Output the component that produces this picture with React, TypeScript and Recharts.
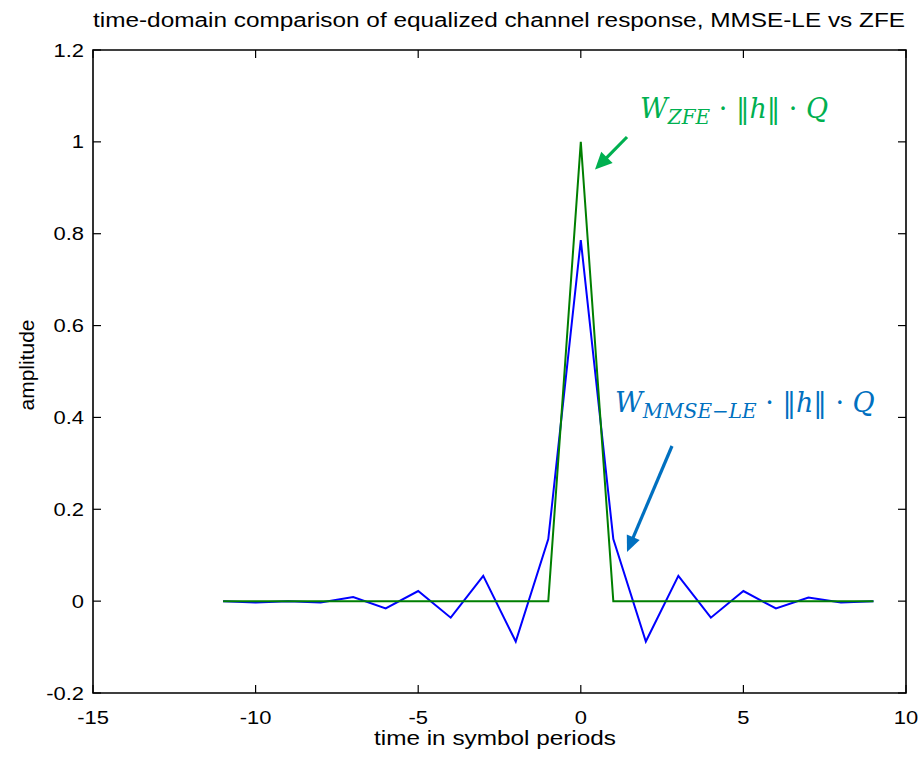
import { LineChart, Line, XAxis, YAxis, ReferenceArea } from "recharts";

// equalized channel response sampled at symbol instants
const timeIndex = [-11, -10, -9, -8, -7, -6, -5, -4, -3, -2, -1, 0, 1, 2, 3, 4, 5, 6, 7, 8, 9];
const mmseLe = [0, -0.003, 0, -0.003, 0.009, -0.016, 0.022, -0.036, 0.055, -0.088, 0.135, 0.786, 0.135, -0.088, 0.055, -0.036, 0.022, -0.016, 0.008, -0.003, 0];
const zfe = [0, 0, 0, 0, 0, 0, 0, 0, 0, 0, 0, 1, 0, 0, 0, 0, 0, 0, 0, 0, 0];

const xTicks = [-15, -10, -5, 0, 5, 10];
const yTicks = [-0.2, 0, 0.2, 0.4, 0.6, 0.8, 1, 1.2];

const W = 921;
const H = 758;
const MARGIN = { top: 50, right: 15, bottom: 0, left: 0 };
const Y_AXIS_W = 93;
const X_AXIS_H = 65;
const PLOT_W = W - MARGIN.left - MARGIN.right - Y_AXIS_W;
const PLOT_H = H - MARGIN.top - MARGIN.bottom - X_AXIS_H;
const TICK_LEN = 8;
const SX = 1.22; // labels are drawn a bit wide
const FONT = "'Liberation Sans', Arial, Helvetica, sans-serif";
const MATH_FONT = "'DejaVu Serif', serif";

const data = timeIndex.map((t, i) => ({ t, mmse: mmseLe[i], zfe: zfe[i] }));

function XTick({ x, y, payload }: any) {
  return (
    <g>
      <line x1={x} x2={x} y1={y} y2={y - TICK_LEN} stroke="#000" strokeWidth={1.2} />
      <line x1={x} x2={x} y1={y - PLOT_H} y2={y - PLOT_H + TICK_LEN} stroke="#000" strokeWidth={1.2} />
      <text
        transform={`translate(${x},${y + 31}) scale(${SX},1)`}
        textAnchor="middle"
        fontFamily={FONT}
        fontSize={18}
        fill="#000"
      >
        {payload.value}
      </text>
    </g>
  );
}

function YTick({ x, y, payload }: any) {
  return (
    <g>
      <line x1={x} x2={x + TICK_LEN} y1={y} y2={y} stroke="#000" strokeWidth={1.2} />
      <line x1={x + PLOT_W} x2={x + PLOT_W - TICK_LEN} y1={y} y2={y} stroke="#000" strokeWidth={1.2} />
      <text
        transform={`translate(${x - 9},${y + 6.5}) scale(${SX},1)`}
        textAnchor="end"
        fontFamily={FONT}
        fontSize={18}
        fill="#000"
      >
        {String(Number(payload.value.toFixed(1)))}
      </text>
    </g>
  );
}

function Arrow({ x1, y1, x2, y2, color, head = 17, half = 8 }: any) {
  const dx = x2 - x1;
  const dy = y2 - y1;
  const len = Math.hypot(dx, dy);
  const ux = dx / len;
  const uy = dy / len;
  const bx = x2 - ux * head;
  const by = y2 - uy * head;
  const pts = `${x2},${y2} ${bx - uy * half},${by + ux * half} ${bx + uy * half},${by - ux * half}`;
  return (
    <g>
      <line x1={x1} y1={y1} x2={bx + ux * 2} y2={by + uy * 2} stroke={color} strokeWidth={3.2} />
      <polygon points={pts} fill={color} />
    </g>
  );
}

// W_sub · ‖h‖ · Q
function Formula({ x, y, sub, color }: any) {
  return (
    <text x={x} y={y} fontFamily={MATH_FONT} fontSize={27} fill={color}>
      <tspan fontStyle="italic">W</tspan>
      <tspan fontStyle="italic" fontSize={20} dy={6}>{sub}</tspan>
      <tspan dy={-6}>{" · ‖"}</tspan>
      <tspan fontStyle="italic">h</tspan>
      <tspan>{"‖ · "}</tspan>
      <tspan fontStyle="italic">Q</tspan>
    </text>
  );
}

export default function App() {
  return (
    <div style={{ position: "absolute", left: 0, top: 0, width: W, height: H, background: "#fff" }}>
      <LineChart width={W} height={H} data={data} margin={MARGIN}>
        <XAxis
          dataKey="t"
          type="number"
          domain={[-15, 10]}
          ticks={xTicks}
          interval={0}
          height={X_AXIS_H}
          tickLine={false}
          tickSize={0}
          tickMargin={0}
          axisLine={false}
          tick={<XTick />}
          allowDataOverflow
        />
        <YAxis
          type="number"
          domain={[-0.2, 1.2]}
          ticks={yTicks}
          interval={0}
          width={Y_AXIS_W}
          tickLine={false}
          tickSize={0}
          tickMargin={0}
          axisLine={false}
          tick={<YTick />}
          allowDataOverflow
        />
        <ReferenceArea x1={-15} x2={10} y1={-0.2} y2={1.2} fill="none" stroke="#000" strokeWidth={1.6} ifOverflow="visible" />
        <Line type="linear" dataKey="mmse" stroke="#0000ff" strokeWidth={2} dot={false} isAnimationActive={false} />
        <Line type="linear" dataKey="zfe" stroke="#007f00" strokeWidth={2} dot={false} isAnimationActive={false} />
      </LineChart>
      <svg width={W} height={H} style={{ position: "absolute", left: 0, top: 0, pointerEvents: "none" }}>
        <text x={93} y={27} fontFamily={FONT} fontSize={20} textLength={812} lengthAdjust="spacingAndGlyphs" fill="#000">
          time-domain comparison of equalized channel response, MMSE-LE vs ZFE
        </text>
        <text x={374} y={745} fontFamily={FONT} fontSize={20} textLength={242} lengthAdjust="spacingAndGlyphs" fill="#000">
          time in symbol periods
        </text>
        <text
          transform="translate(34,365) rotate(-90)"
          textAnchor="middle"
          fontFamily={FONT}
          fontSize={21}
          fill="#000"
        >
          amplitude
        </text>

        <Formula x={640} y={118} sub="ZFE" color="#00b050" />
        <Arrow x1={627} y1={137} x2={595} y2={169.5} color="#00b050" />

        <Formula x={615} y={412} sub="MMSE−LE" color="#0070c0" />
        <Arrow x1={672} y1={446} x2={627} y2={552} color="#0070c0" head={16} half={7} />
      </svg>
    </div>
  );
}
